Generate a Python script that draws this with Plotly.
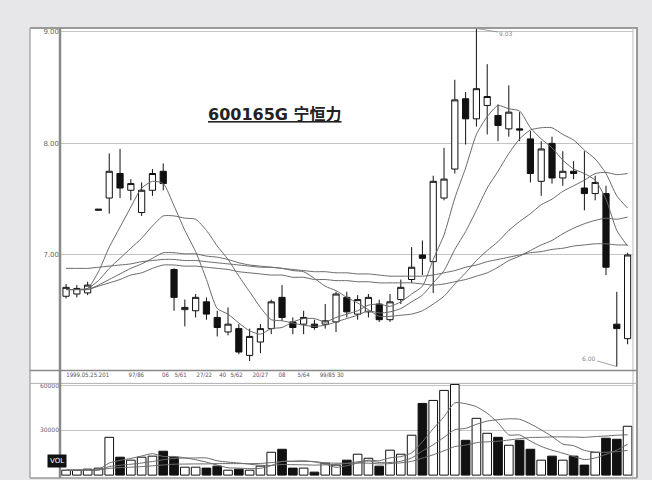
import plotly.graph_objects as go

# ---------------- data ----------------
idx = list(range(53))

open_ = [6.63,6.65,6.66,7.40,7.51,7.73,7.58,7.38,7.58,7.75,
         6.87,6.51,6.50,6.58,6.44,6.31,6.34,6.10,6.22,6.34,
         6.62,6.40,6.38,6.38,6.38,6.40,6.62,6.47,6.49,6.56,
         6.42,6.60,6.78,7.00,6.94,7.51,7.77,8.40,8.22,8.34,
         8.25,8.13,8.13,8.04,7.66,8.00,7.69,7.75,7.60,7.55,
         7.55,6.38,6.25]
high = [6.74,6.73,6.76,7.41,7.91,7.95,7.68,7.65,7.77,7.82,
        6.88,6.60,6.65,6.62,6.50,6.53,6.38,6.34,6.38,6.60,
        6.73,6.44,6.50,6.42,6.56,6.67,6.67,6.64,6.65,6.60,
        6.65,6.78,7.07,7.13,7.71,7.96,8.57,8.46,9.03,8.71,
        8.35,8.52,8.28,8.11,8.02,8.06,7.93,7.84,7.93,7.71,
        7.62,6.67,7.02]
low = [6.61,6.62,6.64,7.40,7.37,7.51,7.49,7.35,7.53,7.58,
       6.50,6.36,6.44,6.42,6.27,6.28,6.11,6.05,6.12,6.29,
       6.41,6.29,6.29,6.33,6.34,6.31,6.44,6.42,6.44,6.40,
       6.40,6.56,6.75,6.82,6.66,7.49,7.73,7.99,8.15,8.08,
       8.02,8.06,8.02,7.65,7.53,7.64,7.62,7.68,7.40,7.49,
       6.82,6.00,6.20]
close = [6.71,6.70,6.73,7.41,7.75,7.60,7.64,7.58,7.73,7.64,
         6.62,6.53,6.62,6.47,6.35,6.38,6.13,6.27,6.34,6.58,
         6.44,6.35,6.44,6.35,6.41,6.65,6.49,6.60,6.62,6.42,
         6.58,6.71,6.89,6.97,7.66,7.68,8.39,8.22,8.49,8.42,
         8.16,8.28,8.12,7.73,7.95,7.69,7.75,7.73,7.55,7.65,
         6.89,6.34,7.00]

ma5 = [6.69,6.69,6.70,6.85,7.07,7.25,7.43,7.60,7.66,7.64,
       7.44,7.22,7.03,6.78,6.52,6.47,6.39,6.32,6.29,6.34,
       6.35,6.40,6.43,6.43,6.40,6.44,6.47,6.50,6.55,6.56,
       6.54,6.58,6.65,6.72,6.96,7.18,7.51,7.78,8.08,8.24,
       8.34,8.31,8.29,8.14,8.04,7.96,7.85,7.77,7.73,7.67,
       7.50,7.22,7.08]
ma10 = [6.69,6.69,6.70,6.77,6.88,6.97,7.06,7.15,7.26,7.35,
        7.35,7.33,7.32,7.22,7.08,6.96,6.81,6.67,6.53,6.42,
        6.41,6.39,6.37,6.36,6.37,6.40,6.43,6.46,6.50,6.48,
        6.49,6.52,6.58,6.64,6.75,6.86,7.05,7.21,7.40,7.60,
        7.75,7.91,8.04,8.12,8.14,8.14,8.08,8.03,7.94,7.86,
        7.73,7.53,7.42]
ma20 = [6.69,6.69,6.69,6.73,6.78,6.83,6.88,6.92,6.97,7.02,
        7.02,7.01,7.01,6.99,6.98,6.96,6.93,6.91,6.90,6.89,
        6.88,6.86,6.85,6.79,6.72,6.68,6.62,6.57,6.51,6.45,
        6.45,6.46,6.47,6.50,6.56,6.63,6.74,6.84,6.95,7.04,
        7.12,7.22,7.30,7.37,7.45,7.50,7.57,7.62,7.67,7.73,
        7.74,7.72,7.73]
ma30 = [6.69,6.69,6.69,6.72,6.75,6.78,6.82,6.84,6.88,6.91,
        6.91,6.90,6.90,6.89,6.88,6.87,6.85,6.84,6.83,6.82,
        6.82,6.80,6.80,6.78,6.78,6.77,6.77,6.76,6.76,6.75,
        6.75,6.75,6.75,6.74,6.73,6.74,6.76,6.78,6.81,6.84,
        6.89,6.95,6.99,7.04,7.09,7.13,7.19,7.24,7.28,7.31,
        7.33,7.32,7.34]
ma60 = [6.88,6.88,6.88,6.89,6.90,6.91,6.92,6.94,6.95,6.96,
        6.96,6.95,6.95,6.94,6.93,6.92,6.91,6.90,6.89,6.89,
        6.88,6.87,6.86,6.85,6.85,6.84,6.84,6.83,6.83,6.82,
        6.81,6.81,6.81,6.81,6.82,6.84,6.86,6.89,6.91,6.94,
        6.96,6.98,7.00,7.02,7.03,7.05,7.06,7.08,7.09,7.10,
        7.10,7.09,7.09]

volume = [3300,3300,4000,4700,25300,12000,10000,12000,12700,16000,
          12000,5300,5300,4700,6000,3300,4000,3300,6000,15300,
          17300,4700,4700,2000,8000,6700,10000,14000,11300,6000,
          16700,14000,26700,48000,50000,56700,60700,23300,38000,28000,
          25300,20000,23300,17300,10000,12700,10000,12700,6700,15300,
          24700,24000,32700]
vol_ma5 = [3300,3300,3500,3700,8100,9900,11200,12800,14400,12500,
           12500,11600,10300,8700,6700,4900,4700,4300,4500,6400,
           9200,9300,9600,8800,7300,5200,6300,8100,10000,9600,
           11600,12400,14900,22300,31100,39100,48400,47800,45800,41400,
           35100,26900,26900,22800,19200,16700,14700,12500,10400,11500,
           13900,16700,20700]
vol_ma10 = [3300,3300,3400,3500,5700,6600,7300,8100,9100,10300,
            11200,11400,11500,11500,9600,8700,8100,7300,6600,6500,
            7100,7000,6900,6700,6900,7200,7800,8900,9400,8500,
            8400,9300,11500,16100,20300,25300,30400,31300,34000,36200,
            37100,37700,37400,34300,30300,25900,20800,19700,16600,15300,
            15300,15700,16600]
vol_ma20 = [3300,3300,3400,3400,4500,5000,5300,5700,6200,6800,
            7300,7400,7500,7500,7700,7700,7700,7700,7800,8400,
            9100,9200,9200,9100,8200,8000,8000,8100,8000,7500,
            7700,8200,9200,11400,13600,16300,19100,20100,21700,22300,
            22700,23500,24400,25200,25300,25600,25600,25500,25300,25800,
            26200,26700,27000]

price_ticks = [7.0, 8.0, 9.0]
price_tick_text = ["7.00", "8.00", "9.00"]
vol_ticks = [30000, 60000]
vol_tick_text = ["30000", "60000"]
date_tick_pos = [2, 6.5, 9.2, 10.6, 12.8, 14.5, 15.8, 18.0, 20.0, 22.0, 24.6]
date_tick_text = ["1999.05.25.201", "97/86", "06", "5/61", "27/22", "40",
                  "5/62", "20/27", "08", "5/64", "99/85 30"]
title_text = "600165G 宁恒力"
high_label = "9.03"
low_label = "6.00"

# ---------------- figure ----------------
W, H = 652, 480
def px(x):
    return x / W
def py(y):
    return 1 - y / H

fig = go.Figure()

fig.add_trace(go.Candlestick(
    x=idx, open=open_, high=high, low=low, close=close,
    increasing=dict(line=dict(color="#111111", width=1), fillcolor="white"),
    decreasing=dict(line=dict(color="#111111", width=1), fillcolor="#111111"),
    whiskerwidth=0, xaxis="x", yaxis="y", showlegend=False, hoverinfo="skip"))

ma_color = "#6a6a6a"
for s in (ma5, ma10, ma20, ma30, ma60):
    fig.add_trace(go.Scatter(x=idx, y=s, mode="lines",
                             line=dict(color=ma_color, width=1, shape="spline", smoothing=0.6),
                             xaxis="x", yaxis="y", showlegend=False, hoverinfo="skip"))

bar_colors = ["white" if c >= o else "#111111" for o, c in zip(open_, close)]
fig.add_trace(go.Bar(x=idx, y=volume, width=0.8,
                     marker=dict(color=bar_colors, line=dict(color="#111111", width=1)),
                     xaxis="x2", yaxis="y2", showlegend=False, hoverinfo="skip"))
for s in (vol_ma5, vol_ma10, vol_ma20):
    fig.add_trace(go.Scatter(x=idx, y=s, mode="lines",
                             line=dict(color=ma_color, width=1, shape="spline", smoothing=0.6),
                             xaxis="x2", yaxis="y2", showlegend=False, hoverinfo="skip"))

xdom = [px(60), px(633)]
xr = [-0.56, 52.5]

shapes = [
    dict(type="rect", xref="paper", yref="paper", x0=px(30), x1=px(637), y0=py(478), y1=py(26),
         fillcolor="white", line=dict(width=0), layer="below"),
    dict(type="line", xref="paper", yref="paper", x0=px(30), x1=px(638), y0=py(26), y1=py(26),
         line=dict(color="#9a9a9a", width=2)),
    dict(type="line", xref="paper", yref="paper", x0=px(30), x1=px(30), y0=py(26), y1=py(478),
         line=dict(color="#a8a8a8", width=1.5)),
    dict(type="line", xref="paper", yref="paper", x0=px(637), x1=px(637), y0=py(26), y1=py(478),
         line=dict(color="#9a9a9a", width=2)),
    dict(type="line", xref="paper", yref="paper", x0=px(633), x1=px(633), y0=py(26), y1=py(478),
         line=dict(color="#bdbdbd", width=1)),
    dict(type="line", xref="paper", yref="paper", x0=px(30), x1=px(637), y0=py(478), y1=py(478),
         line=dict(color="#9a9a9a", width=1.5)),
    dict(type="line", xref="paper", yref="paper", x0=px(30), x1=px(637), y0=py(370), y1=py(370),
         line=dict(color="#888888", width=1.5)),
    dict(type="line", xref="paper", yref="paper", x0=px(30), x1=px(637), y0=py(383), y1=py(383),
         line=dict(color="#b0b0b0", width=1)),
    dict(type="line", xref="paper", yref="paper", x0=px(60), x1=px(60), y0=py(26), y1=py(478),
         line=dict(color="#8a8a8a", width=2.5)),
]

annotations = [
    dict(xref="paper", yref="paper", x=px(275), y=py(101), text="<b><u>" + title_text + "</u></b>",
         showarrow=False, font=dict(family="DejaVu Sans, Noto Sans CJK SC", size=16, color="#222222")),
    dict(xref="x", yref="y", x=38, y=9.03, text=high_label, showarrow=True, arrowhead=0,
         arrowwidth=0.8, arrowcolor="#888888", ax=30, ay=5,
         font=dict(size=6, color="#888888", family="DejaVu Sans")),
    dict(xref="x", yref="y", x=51, y=6.00, text=low_label, showarrow=True, arrowhead=0,
         arrowwidth=0.8, arrowcolor="#888888", ax=-28, ay=-8,
         font=dict(size=6, color="#888888", family="DejaVu Sans")),
    dict(xref="paper", yref="paper", x=px(47), y=py(468), text="VOL", showarrow=False,
         bgcolor="#111111", borderpad=2, font=dict(size=7, color="white", family="DejaVu Sans")),
]

fig.update_layout(
    width=W, height=H, margin=dict(l=0, r=0, t=0, b=0),
    paper_bgcolor="#e7e7e9", plot_bgcolor="rgba(0,0,0,0)",
    boxgap=0.18,
    shapes=shapes, annotations=annotations,
    xaxis=dict(domain=xdom, range=xr, anchor="y", rangeslider=dict(visible=False),
               showgrid=False, zeroline=False, showline=False,
               tickmode="array", tickvals=date_tick_pos, ticktext=date_tick_text,
               tickfont=dict(size=6, color="#555555", family="DejaVu Sans Condensed"), ticks=""),
    yaxis=dict(domain=[py(370), py(26)], range=[5.965, 9.035], anchor="x",
               tickmode="array", tickvals=price_ticks, ticktext=price_tick_text,
               tickfont=dict(size=7, color="#666666", family="DejaVu Sans"),
               showgrid=True, gridcolor="#c4c4c4", gridwidth=1, zeroline=False, showline=False, ticks=""),
    xaxis2=dict(domain=xdom, range=xr, anchor="y2", showticklabels=False,
                showgrid=False, zeroline=False, showline=False),
    yaxis2=dict(domain=[py(476), py(383)], range=[-600, 61400], anchor="x2",
                tickmode="array", tickvals=vol_ticks, ticktext=vol_tick_text,
                tickfont=dict(size=6, color="#666666", family="DejaVu Sans"),
                showgrid=True, gridcolor="#c4c4c4", gridwidth=1, zeroline=False, showline=False, ticks=""),
)

fig.write_html("out.html", config={"displayModeBar": False},
               post_script="document.body.style.margin='0';document.body.style.overflow='hidden';document.body.style.background='#e7e7e9';")
